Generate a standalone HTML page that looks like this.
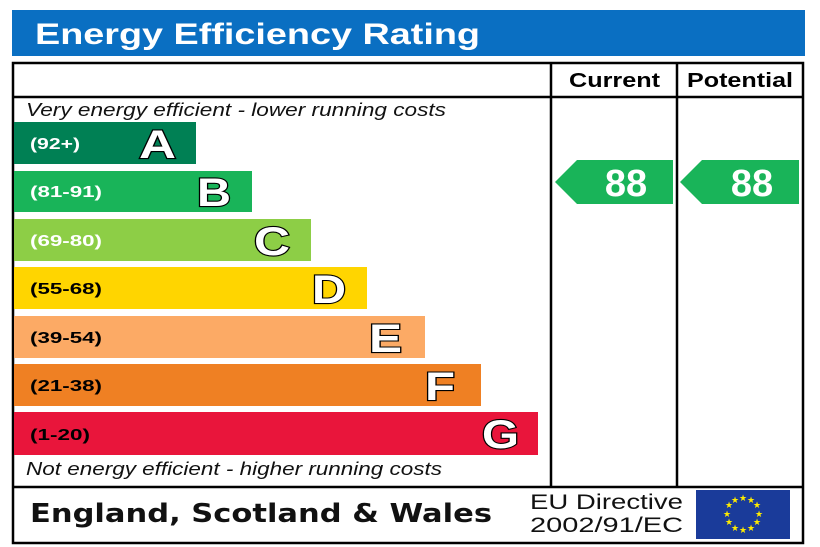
<!DOCTYPE html>
<html><head><meta charset="utf-8"><style>
html,body{margin:0;padding:0;background:#fff;width:820px;height:547px;overflow:hidden}
svg{display:block}
text{font-family:"Liberation Sans",sans-serif}
.L{font-weight:bold;font-size:40px;fill:#fff;stroke:#000;stroke-width:2.2;paint-order:stroke}
.R{font-weight:bold;font-size:16px}
</style></head><body>
<svg width="820" height="547" viewBox="0 0 820 547">
<rect x="12" y="10" width="793" height="46" fill="#0a6fc2"/>
<text x="35" y="44" font-size="30" font-weight="bold" fill="#fff" textLength="445" lengthAdjust="spacingAndGlyphs">Energy Efficiency Rating</text>
<rect x="13" y="63" width="790" height="480" fill="none" stroke="#000" stroke-width="2.5"/>
<line x1="13" y1="97" x2="803" y2="97" stroke="#000" stroke-width="2.5"/>
<line x1="13" y1="487" x2="803" y2="487" stroke="#000" stroke-width="2.5"/>
<line x1="551" y1="63" x2="551" y2="487" stroke="#000" stroke-width="2.5"/>
<line x1="677" y1="63" x2="677" y2="487" stroke="#000" stroke-width="2.5"/>
<text x="569" y="87" font-size="20" font-weight="bold" textLength="91" lengthAdjust="spacingAndGlyphs">Current</text>
<text x="687" y="87" font-size="20" font-weight="bold" textLength="106" lengthAdjust="spacingAndGlyphs">Potential</text>
<text x="26" y="116" font-size="18" font-style="italic" fill="#111" textLength="420" lengthAdjust="spacingAndGlyphs">Very energy efficient - lower running costs</text>
<text x="26" y="475" font-size="18" font-style="italic" fill="#111" textLength="416" lengthAdjust="spacingAndGlyphs">Not energy efficient - higher running costs</text>
<rect x="14" y="122" width="182" height="42" fill="#008054"/>
<text class="R" x="30" y="149" fill="#fff" textLength="50" lengthAdjust="spacingAndGlyphs">(92+)</text>
<text class="L" x="176" y="158" text-anchor="end" textLength="37" lengthAdjust="spacingAndGlyphs">A</text>
<rect x="14" y="171" width="238" height="41" fill="#19b459"/>
<text class="R" x="30" y="197" fill="#fff" textLength="72" lengthAdjust="spacingAndGlyphs">(81-91)</text>
<text class="L" x="231" y="206" text-anchor="end" textLength="34" lengthAdjust="spacingAndGlyphs">B</text>
<rect x="14" y="219" width="297" height="42" fill="#8dce46"/>
<text class="R" x="30" y="246" fill="#fff" textLength="72" lengthAdjust="spacingAndGlyphs">(69-80)</text>
<text class="L" x="290" y="255" text-anchor="end" textLength="36" lengthAdjust="spacingAndGlyphs">C</text>
<rect x="14" y="267" width="353" height="42" fill="#ffd500"/>
<text class="R" x="30" y="294" fill="#000" textLength="72" lengthAdjust="spacingAndGlyphs">(55-68)</text>
<text class="L" x="346" y="303" text-anchor="end" textLength="34" lengthAdjust="spacingAndGlyphs">D</text>
<rect x="14" y="316" width="411" height="42" fill="#fcaa65"/>
<text class="R" x="30" y="343" fill="#000" textLength="72" lengthAdjust="spacingAndGlyphs">(39-54)</text>
<text class="L" x="402" y="352" text-anchor="end" textLength="33" lengthAdjust="spacingAndGlyphs">E</text>
<rect x="14" y="364" width="467" height="42" fill="#ef8023"/>
<text class="R" x="30" y="391" fill="#000" textLength="72" lengthAdjust="spacingAndGlyphs">(21-38)</text>
<text class="L" x="455" y="400" text-anchor="end" textLength="30" lengthAdjust="spacingAndGlyphs">F</text>
<rect x="14" y="412" width="524" height="43" fill="#e9153b"/>
<text class="R" x="30" y="440" fill="#000" textLength="60" lengthAdjust="spacingAndGlyphs">(1-20)</text>
<text class="L" x="519" y="448" text-anchor="end" textLength="37" lengthAdjust="spacingAndGlyphs">G</text>
<polygon points="555,182 577,160 673,160 673,204 577,204" fill="#19b459"/>
<text x="626" y="196" font-size="38" font-weight="bold" fill="#fff" text-anchor="middle">88</text>
<polygon points="680,182 702,160 799,160 799,204 702,204" fill="#19b459"/>
<text x="752" y="196" font-size="38" font-weight="bold" fill="#fff" text-anchor="middle">88</text>
<text x="30" y="522" font-size="26" font-weight="bold" fill="#111" style="font-family:'DejaVu Sans',sans-serif" textLength="462" lengthAdjust="spacingAndGlyphs">England, Scotland &amp; Wales</text>
<text x="530" y="509" font-size="21" fill="#111" textLength="153" lengthAdjust="spacingAndGlyphs">EU Directive</text>
<text x="530" y="532" font-size="21" fill="#111" textLength="153" lengthAdjust="spacingAndGlyphs">2002/91/EC</text>
<rect x="696" y="490" width="94" height="49" fill="#1a3b9a"/>
<g fill="#ffec00" font-size="9" text-anchor="middle">
<text x="743" y="501">★</text><text x="751" y="503">★</text><text x="757" y="508">★</text><text x="759" y="517">★</text><text x="757" y="525">★</text><text x="751" y="531">★</text><text x="743" y="533">★</text><text x="735" y="531">★</text><text x="729" y="525">★</text><text x="727" y="517">★</text><text x="729" y="508">★</text><text x="735" y="503">★</text>
</g>
</svg>
</body></html>
